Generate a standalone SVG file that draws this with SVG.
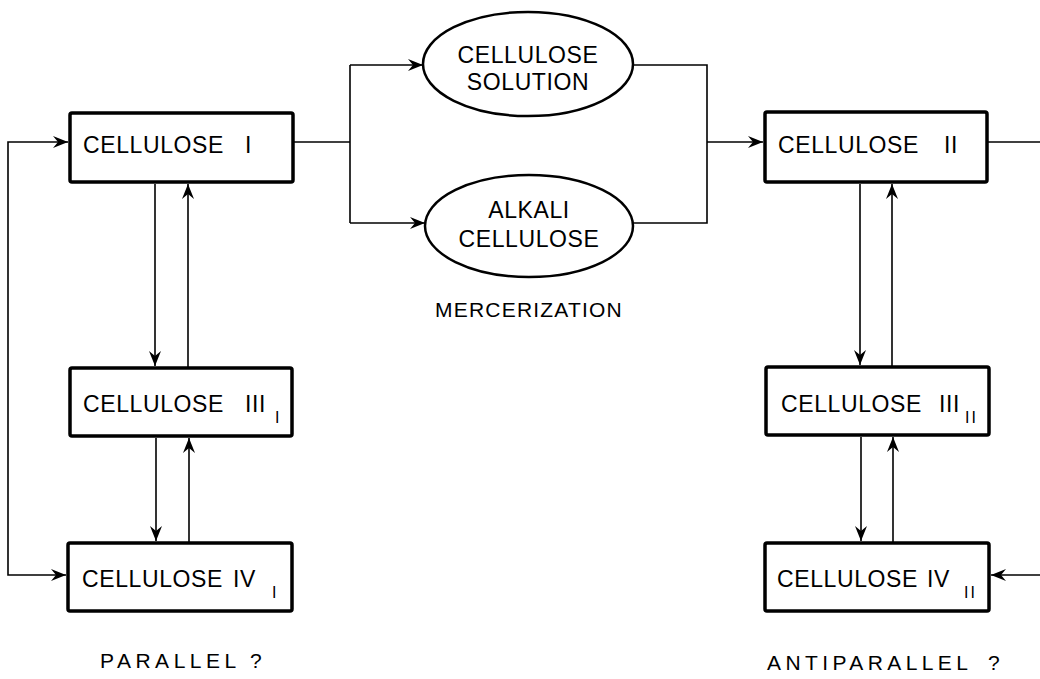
<svg xmlns="http://www.w3.org/2000/svg" width="1040" height="679" viewBox="0 0 1040 679">
<style>
.box{fill:#fff;stroke:#000;stroke-width:3.5}
.ell{fill:#fff;stroke:#000;stroke-width:2.5}
.ln{fill:none;stroke:#000;stroke-width:1.6}
.t{font-family:"Liberation Sans",Arial,sans-serif;font-size:23px;letter-spacing:0.6px;fill:#000}
.s{font-family:"Liberation Sans",Arial,sans-serif;font-size:16px;fill:#000}
.lab{font-family:"Liberation Sans",Arial,sans-serif;font-size:21px;fill:#000}
</style>
<defs>
<marker id="ah" viewBox="-16 -7 17 14" refX="0" refY="0" markerWidth="17" markerHeight="14" markerUnits="userSpaceOnUse" orient="auto">
<path d="M0,0 L-15,-6 L-10,0 L-15,6 Z" fill="#000"/>
</marker>
</defs>
<rect width="1040" height="679" fill="#fff"/>
<g id="connectors">
<path class="ln" d="M293,142 H350"/>
<path class="ln" d="M350,65 V223"/>
<path class="ln" d="M350,65 H423" marker-end="url(#ah)"/>
<path class="ln" d="M350,223 H425" marker-end="url(#ah)"/>
<path class="ln" d="M633,65 H707 V223 H633"/>
<path class="ln" d="M707,142 H763" marker-end="url(#ah)"/>
<path class="ln" d="M987,142 H1040"/>
<path class="ln" d="M1040,575 H991" marker-end="url(#ah)"/>
<path class="ln" d="M8,360 V142 H68" marker-end="url(#ah)"/>
<path class="ln" d="M8,360 V575 H66" marker-end="url(#ah)"/>
<path class="ln" d="M155,184 V366" marker-end="url(#ah)"/>
<path class="ln" d="M188,368 V184" marker-end="url(#ah)"/>
<path class="ln" d="M156,438 V541" marker-end="url(#ah)"/>
<path class="ln" d="M189,543 V438" marker-end="url(#ah)"/>
<path class="ln" d="M860,184 V365" marker-end="url(#ah)"/>
<path class="ln" d="M892,367 V184" marker-end="url(#ah)"/>
<path class="ln" d="M861,437 V541" marker-end="url(#ah)"/>
<path class="ln" d="M893,543 V437" marker-end="url(#ah)"/>
</g>
<g id="cellulose-I">
<rect class="box" x="70" y="113" width="223" height="69" rx="2"/>
<text class="t" x="83" y="153">CELLULOSE</text>
<text class="t" x="245" y="153">I</text>
</g>
<g id="cellulose-solution">
<ellipse class="ell" cx="528" cy="64" rx="105" ry="52"/>
<text class="t" x="528" y="63" text-anchor="middle">CELLULOSE</text>
<text class="t" x="528" y="90" text-anchor="middle">SOLUTION</text>
</g>
<g id="alkali-cellulose">
<ellipse class="ell" cx="529" cy="226" rx="104" ry="51"/>
<text class="t" x="529" y="218" text-anchor="middle">ALKALI</text>
<text class="t" x="529" y="247" text-anchor="middle">CELLULOSE</text>
</g>
<g id="mercerization">
<text class="lab" x="529" y="317" text-anchor="middle" letter-spacing="1.2">MERCERIZATION</text>
</g>
<g id="cellulose-II">
<rect class="box" x="765" y="112" width="222" height="70" rx="2"/>
<text class="t" x="778" y="153">CELLULOSE</text>
<text class="t" x="944" y="153" letter-spacing="4">II</text>
</g>
<g id="cellulose-III-I">
<rect class="box" x="70" y="368" width="222" height="68" rx="2"/>
<text class="t" x="83" y="412">CELLULOSE</text>
<text class="t" x="245" y="412" letter-spacing="1">III</text>
<text class="s" x="275" y="423">I</text>
</g>
<g id="cellulose-IV-I">
<rect class="box" x="68" y="543" width="224" height="68" rx="2"/>
<text class="t" x="82" y="587">CELLULOSE</text>
<text class="t" x="233" y="587" letter-spacing="1.5">IV</text>
<text class="s" x="272" y="598">I</text>
</g>
<g id="cellulose-III-II">
<rect class="box" x="766" y="367" width="223" height="68" rx="2"/>
<text class="t" x="781" y="412">CELLULOSE</text>
<text class="t" x="939" y="412" letter-spacing="1">III</text>
<text class="s" x="965" y="423" letter-spacing="2">II</text>
</g>
<g id="cellulose-IV-II">
<rect class="box" x="765" y="543" width="224" height="68" rx="2"/>
<text class="t" x="777" y="587">CELLULOSE</text>
<text class="t" x="927" y="587" letter-spacing="1.5">IV</text>
<text class="s" x="964" y="598" letter-spacing="2">II</text>
</g>
<g id="parallel">
<text class="lab" x="100" y="668" letter-spacing="4.5">PARALLEL</text>
<text class="lab" x="250" y="668">?</text>
</g>
<g id="antiparallel">
<text class="lab" x="767" y="670" letter-spacing="4.4">ANTIPARALLEL</text>
<text class="lab" x="988" y="670">?</text>
</g>
</svg>
